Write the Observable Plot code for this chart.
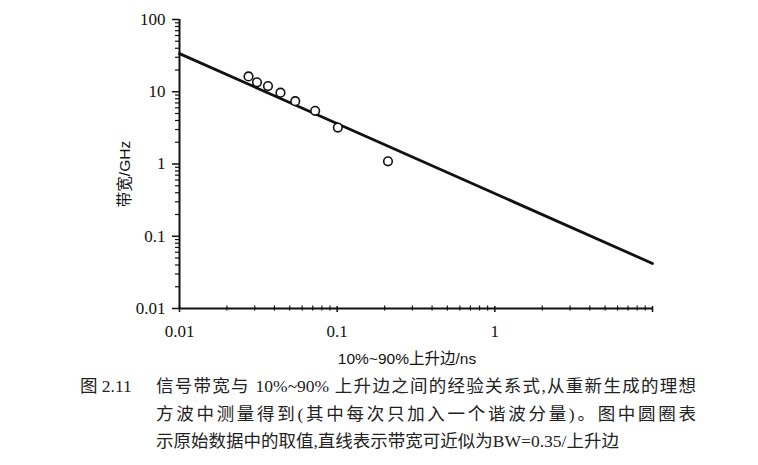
<!DOCTYPE html>
<html><head><meta charset="utf-8">
<script src="https://cdn.jsdelivr.net/npm/d3@7"></script>
<script src="https://cdn.jsdelivr.net/npm/@observablehq/plot@0.6"></script>
<style>
body{margin:0;background:#fff;width:758px;overflow:hidden;}
#chart svg{display:block;}
#cap{position:relative;margin-top:5px;font-family:"Liberation Serif","Noto Sans CJK SC",serif;font-size:17.5px;line-height:27.5px;color:#222;}
#cap .fig{position:absolute;left:80px;top:0;}
#cap .ln{margin-left:156px;width:540px;white-space:nowrap;}
#cap .j{text-align:justify;text-align-last:justify;white-space:normal;}
</style></head><body>
<div id="chart"></div>
<div id="cap">
<span class="fig">图 2.11</span>
<div class="ln j">信号带宽与 10%~90% 上升边之间的经验关系式,从重新生成的理想</div>
<div class="ln j">方波中测量得到(其中每次只加入一个谐波分量)。图中圆圈表</div>
<div class="ln">示原始数据中的取值,直线表示带宽可近似为BW=0.35/上升边</div>
</div>
<script>
const riseTimes = [0.0274, 0.031, 0.0364, 0.0437, 0.0542, 0.0725, 0.101, 0.21];
const bandwidths = [16.3, 13.5, 12.0, 9.7, 7.4, 5.45, 3.19, 1.09];
const fitRiseTimes = [0.01, 10];
const fitBandwidths = [33.7, 0.042];
const xMajorTicks = [0.01, 0.1, 1, 10];
const xTickLabels = ["0.01", "0.1", "1", ""];
const yMajorTicks = [0.01, 0.1, 1, 10, 100];
const yTickLabels = ["0.01", "0.1", "1", "10", "100"];
const minorMultipliers = [2, 3, 4, 5, 6, 7, 8, 9];
const xLabel = "10%~90%上升边/ns";
const yLabel = "带宽/GHz";

const xMinor = xMajorTicks.slice(0, -1).flatMap(d => minorMultipliers.map(m => d * m));
const yMinor = yMajorTicks.slice(0, -1).flatMap(d => minorMultipliers.map(m => d * m));
const points = riseTimes.map((t, i) => ({t, bw: bandwidths[i]}));
const fit = fitRiseTimes.map((t, i) => ({t, bw: fitBandwidths[i]}));
const sans = "'Liberation Sans', 'Noto Sans CJK SC', sans-serif";

const plot = Plot.plot({
  width: 758, height: 368,
  marginLeft: 179, marginRight: 106, marginTop: 19, marginBottom: 60,
  x: {type: "log", domain: [0.01, 10]},
  y: {type: "log", domain: [0.01, 100]},
  style: {fontFamily: "'Liberation Serif', serif", fontSize: "17px", color: "#111", background: "#fff"},
  marks: [
    Plot.axisY({ticks: yMinor, tickSize: 4, tickFormat: () => "", strokeWidth: 1.2, label: null}),
    Plot.axisY({ticks: yMajorTicks, tickSize: 7, tickPadding: 7, strokeWidth: 1.5,
      tickFormat: d => yTickLabels[yMajorTicks.indexOf(d)], label: null, fontSize: 17}),
    Plot.axisX({ticks: xMinor, tickSize: 5, dy: -2.5, tickFormat: () => "", strokeWidth: 1.2, label: null}),
    Plot.axisX({ticks: xMajorTicks, tickSize: 6, dy: -2, tickPadding: 12, strokeWidth: 1.5,
      tickFormat: d => xTickLabels[xMajorTicks.indexOf(d)], label: null, fontSize: 17}),
    Plot.ruleX([0.01], {strokeWidth: 2, stroke: "#111"}),
    Plot.ruleY([0.01], {strokeWidth: 2, stroke: "#111"}),
    Plot.line(fit, {x: "t", y: "bw", strokeWidth: 2.8, stroke: "#111"}),
    Plot.dot(points, {x: "t", y: "bw", r: 4.3, stroke: "#111", strokeWidth: 1.6, fill: "white"}),
    Plot.text([yLabel], {frameAnchor: "left", textAnchor: "middle", lineAnchor: "middle",
      dx: -54, dy: 10, rotate: -90, fontFamily: sans, fontSize: 15.5, fill: "#111"}),
    Plot.text([xLabel], {frameAnchor: "bottom", textAnchor: "middle", lineAnchor: "middle",
      dx: -9, dy: 51, fontFamily: sans, fontSize: 15.5, fill: "#111"})
  ]
});
document.getElementById("chart").append(plot);
</script>
</body></html>
